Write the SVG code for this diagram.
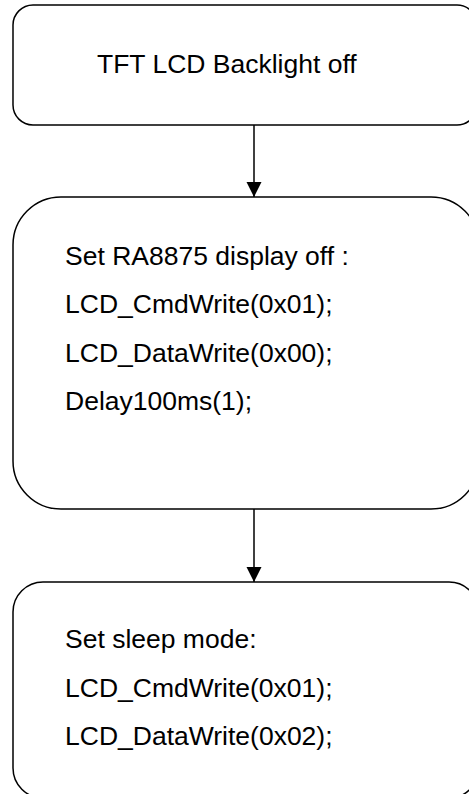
<svg xmlns="http://www.w3.org/2000/svg" width="469" height="794" viewBox="0 0 469 794">
<defs>
<style>
.box{fill:#fff;stroke:#000;stroke-width:1.5}
.t{font-family:"Liberation Sans",Arial,sans-serif;font-size:26.5px;fill:#000}
.c{stroke:#000;stroke-width:1.5;fill:none}
</style>
<marker id="ah" markerWidth="16" markerHeight="16" viewBox="0 0 16 16" refX="15" refY="8" orient="auto" markerUnits="userSpaceOnUse">
<path d="M0,0.5 L15,8 L0,15.5 Z" fill="#000"/>
</marker>
</defs>
<rect width="469" height="794" fill="#fff"/>
<g id="connectors">
<line class="c" x1="254" y1="125" x2="254" y2="197" marker-end="url(#ah)"/>
<line class="c" x1="254" y1="509" x2="254" y2="582" marker-end="url(#ah)"/>
</g>
<g id="node1">
<rect class="box" x="13" y="5" width="464" height="120" rx="20" ry="20"/>
<text class="t" x="97" y="73">TFT LCD Backlight off</text>
</g>
<g id="node2">
<rect class="box" x="13" y="197" width="466" height="312" rx="48" ry="48"/>
<text class="t" x="65" y="265">Set RA8875 display off :</text>
<text class="t" x="65" y="313">LCD_CmdWrite(0x01);</text>
<text class="t" x="65" y="362">LCD_DataWrite(0x00);</text>
<text class="t" x="65" y="410">Delay100ms(1);</text>
</g>
<g id="node3">
<rect class="box" x="13" y="582" width="466" height="216" rx="30" ry="30"/>
<text class="t" x="65" y="648">Set sleep mode:</text>
<text class="t" x="65" y="697">LCD_CmdWrite(0x01);</text>
<text class="t" x="65" y="745">LCD_DataWrite(0x02);</text>
</g>
</svg>
